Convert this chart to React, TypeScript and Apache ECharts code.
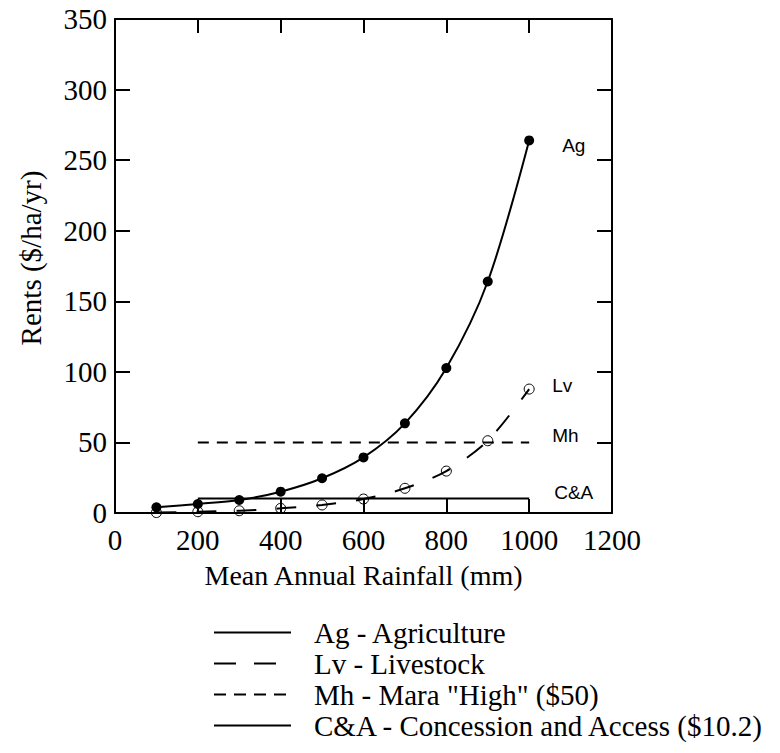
import React, { useEffect, useRef } from 'react';
import * as echarts from 'echarts';

// rainfall (mm) at which rents were computed
const rainfall = [100, 200, 300, 400, 500, 600, 700, 800, 900, 1000];
// Ag - Agriculture rents ($/ha/yr)
const agRents = [4, 6.4, 9.2, 15.1, 24.6, 39.4, 63.5, 102.7, 164, 264];
// Lv - Livestock rents ($/ha/yr)
const lvRents = [0.3, 0.9, 1.6, 3.3, 5.7, 9.9, 17.5, 29.7, 51.2, 87.8];
// flat rents and the rainfall span they are drawn over
const mhSpan = [200, 1000];
const mhRent = 50;
const caSpan = [200, 1000];
const caRent = 10.2;

const serif = '"Liberation Serif", "Times New Roman", serif';
const sans = '"Liberation Sans", Arial, sans-serif';

const App: React.FC = () => {
    const chartRef = useRef<HTMLDivElement>(null);

    useEffect(() => {
        if (!chartRef.current) return;
        const chart = echarts.init(chartRef.current, undefined, { renderer: 'svg' });

        const axisLine = { show: true, onZero: false, lineStyle: { color: '#000', width: 2 } };
        const axisTick = { show: true, inside: true, length: 14, lineStyle: { color: '#000', width: 2 } };
        const endLabel = (text: string, offset: number[]) => ({
            show: true,
            formatter: () => text,
            distance: 5,
            offset,
            align: 'left',
            fontFamily: sans,
            fontSize: 19,
            color: '#000',
        });
        const tickLabel = {
            fontFamily: serif,
            fontSize: 29,
            color: '#000',
            formatter: (v: number) => String(v),
        };

        const option = {
            animation: false,
            backgroundColor: '#fff',
            grid: { left: 115, right: 168, top: 19, bottom: 240, containLabel: false },
            legend: {
                orient: 'vertical',
                left: 213,
                top: 617,
                height: 136,
                padding: 0,
                itemWidth: 77,
                itemHeight: 2,
                itemGap: 0,
                selectedMode: false,
                itemStyle: { opacity: 0 },
                textStyle: {
                    fontFamily: serif,
                    fontSize: 29,
                    lineHeight: 31,
                    color: '#000',
                    padding: [0, 0, 0, 18],
                },
                data: [
                    'Ag - Agriculture',
                    { name: 'Lv - Livestock', lineStyle: { type: [22, 18] } },
                    { name: 'Mh - Mara "High" ($50)', lineStyle: { type: [12, 8] } },
                    'C&A - Concession and Access ($10.2)',
                ],
            },
            xAxis: [
                {
                    type: 'value',
                    min: 0,
                    max: 1200,
                    interval: 200,
                    name: 'Mean Annual Rainfall (mm)',
                    nameLocation: 'middle',
                    nameGap: 48,
                    nameTextStyle: { fontFamily: serif, fontSize: 28, color: '#000' },
                    axisLine,
                    axisTick,
                    splitLine: { show: false },
                    axisLabel: { ...tickLabel, margin: 12 },
                },
                {
                    type: 'value',
                    position: 'top',
                    min: 0,
                    max: 1200,
                    interval: 200,
                    axisLine,
                    axisTick,
                    splitLine: { show: false },
                    axisLabel: { show: false },
                },
            ],
            yAxis: [
                {
                    type: 'value',
                    min: 0,
                    max: 350,
                    interval: 50,
                    name: 'Rents ($/ha/yr)',
                    nameLocation: 'middle',
                    nameGap: 70,
                    nameTextStyle: { fontFamily: serif, fontSize: 29, color: '#000', padding: [0, 0, 0, 16] },
                    axisLine,
                    axisTick: { ...axisTick, length: 15 },
                    splitLine: { show: false },
                    axisLabel: { ...tickLabel, margin: 8 },
                },
                {
                    type: 'value',
                    position: 'right',
                    min: 0,
                    max: 350,
                    interval: 50,
                    axisLine,
                    axisTick: { ...axisTick, length: 15 },
                    splitLine: { show: false },
                    axisLabel: { show: false },
                },
            ],
            series: [
                {
                    name: 'Ag - Agriculture',
                    type: 'line',
                    smooth: 0.3,
                    symbol: 'circle',
                    symbolSize: 10,
                    itemStyle: { color: '#000' },
                    lineStyle: { color: '#000', width: 2 },
                    endLabel: endLabel('Ag', [28, 5]),
                    data: rainfall.map((x, i) => [x, agRents[i]]),
                    z: 4,
                },
                {
                    name: 'Lv - Livestock',
                    type: 'line',
                    smooth: 0.3,
                    symbol: 'circle',
                    symbolSize: 10,
                    itemStyle: { color: 'none', borderColor: '#000', borderWidth: 1 },
                    lineStyle: { color: '#000', width: 2, type: [20, 20] },
                    endLabel: endLabel('Lv', [18, -4]),
                    data: rainfall.map((x, i) => [x, lvRents[i]]),
                    z: 3,
                },
                {
                    name: 'Mh - Mara "High" ($50)',
                    type: 'line',
                    symbol: 'none',
                    lineStyle: { color: '#000', width: 2, type: [11, 8] },
                    endLabel: endLabel('Mh', [18, -7]),
                    data: mhSpan.map((x) => [x, mhRent]),
                },
                {
                    name: 'C&A - Concession and Access ($10.2)',
                    type: 'line',
                    symbol: 'none',
                    lineStyle: { color: '#000', width: 2 },
                    endLabel: endLabel('C&A', [20, -6]),
                    data: caSpan.map((x) => [x, caRent]),
                },
            ],
        };

        chart.setOption(option as any);
        return () => {
            chart.dispose();
        };
    }, []);

    return (
        <div
            ref={chartRef}
            style={{ position: 'fixed', left: 0, top: 0, width: '780px', height: '753px', background: '#fff' }}
        />
    );
};

export default App;
